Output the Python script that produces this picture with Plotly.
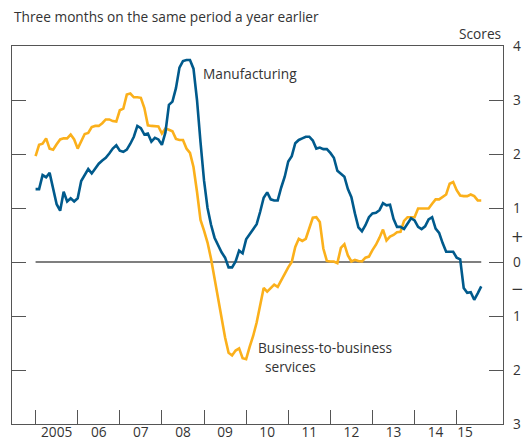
import plotly.graph_objects as go

BLUE = "#005A8C"
ORANGE = "#FBB01B"
GREY = "#555555"
TEXT = "#333333"
FONT = "Open Sans"
FS = 13.7

START_YEAR = 2005

# monthly readings, Jan 2005 onwards
manufacturing = [
    1.35, 1.35, 1.61, 1.57, 1.65, 1.33, 1.07, 0.95, 1.30, 1.12, 1.18, 1.12,
    1.18, 1.50, 1.62, 1.72, 1.64, 1.74, 1.82, 1.88, 1.93, 2.01, 2.10, 2.16,
    2.06, 2.04, 2.08, 2.19, 2.32, 2.52, 2.48, 2.36, 2.38, 2.23, 2.30, 2.27,
    2.17, 2.40, 2.91, 2.97, 3.22, 3.60, 3.72, 3.74, 3.74, 3.58, 3.00, 2.22,
    1.51, 1.00, 0.69, 0.45, 0.30, 0.18, 0.08, -0.10, -0.10, 0.01, 0.21, 0.16,
    0.42, 0.51, 0.60, 0.70, 0.93, 1.19, 1.29, 1.16, 1.14, 1.14, 1.38, 1.58,
    1.86, 1.96, 2.20, 2.26, 2.29, 2.32, 2.32, 2.25, 2.10, 2.12, 2.09, 2.09,
    2.02, 1.93, 1.69, 1.64, 1.58, 1.35, 1.20, 0.90, 0.64, 0.57, 0.68, 0.83,
    0.90, 0.91, 0.96, 1.09, 1.05, 1.06, 0.80, 0.65, 0.65, 0.61, 0.72, 0.81,
    0.77, 0.65, 0.61, 0.66, 0.79, 0.83, 0.62, 0.54, 0.35, 0.19, 0.19, 0.19,
    0.08, 0.05, -0.48, -0.57, -0.56, -0.70, -0.58, -0.45,
]

business_services = [
    1.96, 2.17, 2.19, 2.29, 2.10, 2.08, 2.18, 2.27, 2.29, 2.29, 2.36, 2.27,
    2.10, 2.24, 2.37, 2.39, 2.50, 2.52, 2.52, 2.57, 2.64, 2.64, 2.61, 2.60,
    2.81, 2.84, 3.10, 3.12, 3.05, 3.05, 3.04, 2.85, 2.53, 2.52, 2.52, 2.51,
    2.38, 2.47, 2.45, 2.42, 2.28, 2.26, 2.26, 2.10, 2.02, 1.76, 1.30, 0.78,
    0.58, 0.36, 0.06, -0.30, -0.66, -1.02, -1.40, -1.68, -1.73, -1.64, -1.60, -1.78,
    -1.80, -1.57, -1.37, -1.12, -0.80, -0.48, -0.55, -0.48, -0.42, -0.46, -0.33, -0.22,
    -0.10, 0.00, 0.28, 0.43, 0.39, 0.43, 0.64, 0.82, 0.83, 0.74, 0.25, 0.02,
    0.01, 0.01, -0.02, 0.26, 0.33, 0.12, 0.01, 0.04, 0.02, 0.01, 0.08, 0.10,
    0.22, 0.32, 0.45, 0.60, 0.40, 0.47, 0.50, 0.55, 0.56, 0.76, 0.83, 0.83,
    0.83, 0.99, 0.99, 0.99, 0.99, 1.08, 1.16, 1.16, 1.21, 1.25, 1.45, 1.48,
    1.33, 1.23, 1.22, 1.22, 1.25, 1.22, 1.14, 1.14,
]

years = list(range(2005, 2016))
year_labels = ["2005", "06", "07", "08", "09", "10", "11", "12", "13", "14", "15"]
label_pos = [y + 0.5 for y in years[:-1]] + [2015.2]

y_ticks = [-3, -2, -1, 0, 1, 2, 3, 4]
y_labels = ["3", "2", "1", "0", "1", "2", "3", "4"]

x = [START_YEAR + i / 12 for i in range(len(manufacturing))]

fig = go.Figure()
fig.add_trace(go.Scatter(x=[x[0], x[-1]], y=[0, 0], mode="lines",
                         line=dict(color=GREY, width=1.3), hoverinfo="skip"))
fig.add_trace(go.Scatter(x=x, y=business_services, mode="lines",
                         line=dict(color=ORANGE, width=2.6)))
fig.add_trace(go.Scatter(x=x, y=manufacturing, mode="lines",
                         line=dict(color=BLUE, width=2.6)))
# empty trace so the label axis is drawn
fig.add_trace(go.Scatter(x=[x[0]], y=[0], xaxis="x2",
                         mode="markers", marker=dict(opacity=0),
                         hoverinfo="skip"))

fig.update_layout(
    width=523, height=441,
    margin=dict(l=12, r=20, t=46, b=17),
    showlegend=False,
    plot_bgcolor="white", paper_bgcolor="white",
    font=dict(family=FONT, size=FS, color=TEXT),
    xaxis=dict(range=[2004.44, 2016.1], tickvals=years,
               ticktext=[""] * len(years), ticks="inside", ticklen=14,
               tickcolor=GREY, tickwidth=1.3, showline=True, linecolor=GREY,
               linewidth=1.3, mirror=True, showgrid=False, zeroline=False,
               automargin=False),
    xaxis2=dict(range=[2004.44, 2016.1], overlaying="x", anchor="y",
                side="bottom", tickvals=label_pos, ticktext=year_labels,
                ticks="", showgrid=False, zeroline=False, showline=False,
                tickfont=dict(size=FS, color=TEXT), automargin=False,
                ticklabelstandoff=-2),
    yaxis=dict(range=[-3, 4], side="right", tickvals=y_ticks,
               ticktext=y_labels, ticks="inside", ticklen=14,
               tickcolor=GREY, tickwidth=1.3, showline=True, linecolor=GREY,
               linewidth=1.3, mirror="ticks", showgrid=False, zeroline=False,
               tickfont=dict(size=FS, color=TEXT), automargin=False,
               ticklabelstandoff=6),
)

# + / - markers beside the zero line on the right axis
for sign, yv in [("+", 0.47), ("\u2212", -0.5)]:
    fig.add_annotation(text=sign, xref="paper", yref="y", x=1, y=yv,
                       xshift=14, xanchor="center", yanchor="middle",
                       showarrow=False,
                       font=dict(family="DejaVu Sans", size=15, color=TEXT))

fig.add_annotation(text="Three months on the same period a year earlier",
                   xref="paper", yref="paper", x=0, y=1.077,
                   xanchor="left", yanchor="middle", showarrow=False,
                   font=dict(size=FS, color=TEXT))
fig.add_annotation(text="Scores", xref="paper", yref="paper", x=1, y=1.034,
                   xanchor="right", yanchor="middle", showarrow=False,
                   font=dict(size=FS, color=TEXT))
fig.add_annotation(text="Manufacturing", x=2008.93, y=3.5,
                   xanchor="left", yanchor="middle", showarrow=False)
fig.add_annotation(text="Business-to-business", x=2010.24, y=-1.59,
                   xanchor="left", yanchor="middle", showarrow=False)
fig.add_annotation(text="services", x=2010.41, y=-1.94,
                   xanchor="left", yanchor="middle", showarrow=False)

# page body has a default 8px margin, drop it so the figure sits at 0,0
fig.write_html("out.html", config={"displayModeBar": False},
               post_script="document.body.style.margin='0';")
